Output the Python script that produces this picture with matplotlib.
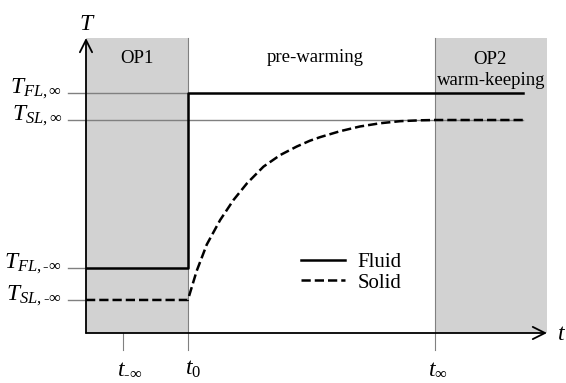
import numpy as np
import matplotlib.pyplot as plt
from matplotlib.lines import Line2D

plt.rcParams['font.family'] = ['Liberation Serif', 'DejaVu Serif']
plt.rcParams['mathtext.fontset'] = 'custom'
plt.rcParams['mathtext.rm'] = 'Liberation Serif'
plt.rcParams['mathtext.it'] = 'Liberation Serif:italic'

# schematic time points (arbitrary units)
t_minus_inf = 0.80
t_0 = 2.21
t_inf = 7.57
t_end = 9.48

# temperature levels (arbitrary units)
T_FL_inf = 8.14
T_SL_inf = 7.22
T_FL_minus = 2.20
T_SL_minus = 1.12

# solid temperature during pre-warming
solid_t = [2.21, 2.40, 2.62, 2.91, 3.20, 3.49, 3.85, 4.21, 4.57, 4.86,
           5.08, 5.51, 5.94, 6.38, 6.81, 7.25, 7.57, 9.48]
solid_T = [1.12, 2.10, 3.00, 3.83, 4.51, 5.07, 5.64, 6.03, 6.32, 6.52,
           6.64, 6.84, 7.00, 7.11, 7.18, 7.21, 7.22, 7.22]

level_values = [T_FL_inf, T_SL_inf, T_FL_minus, T_SL_minus]
level_labels = [r'$T_{FL,\infty}$', r'$T_{SL,\infty}$',
                r'$T_{FL,\text{-}\infty}$', r'$T_{SL,\text{-}\infty}$']
tick_values = [t_minus_inf, t_0, t_inf]
tick_labels = [r'$t_{\text{-}\infty}$', r'$t_{\mathit{0}}$', r'$t_{\infty}$']

fig = plt.figure(figsize=(5.66, 3.83), dpi=100)
ax = fig.add_axes([86/566, 50/383, 461/566, 295/383])
ax.set_xlim(0, 10)
ax.set_ylim(0, 10)
ax.axis('off')

shade = '#d2d2d2'
guide = '#808080'

# operating phases
ax.axvspan(0, t_0, color=shade, zorder=0, lw=0)
ax.axvspan(t_inf, 10, color=shade, zorder=0, lw=0)

# vertical markers
ax.plot([t_0, t_0], [-0.58, 10], color=guide, lw=0.8, zorder=1, clip_on=False)
ax.plot([t_inf, t_inf], [-0.58, 10], color=guide, lw=0.8, zorder=1, clip_on=False)
ax.plot([t_minus_inf, t_minus_inf], [-0.58, 0], color=guide, lw=0.8, zorder=1, clip_on=False)

# horizontal guide lines
ax.plot([-0.39, t_0], [T_FL_inf, T_FL_inf], color=guide, lw=1.0, zorder=1, clip_on=False)
ax.plot([-0.39, t_end], [T_SL_inf, T_SL_inf], color=guide, lw=1.0, zorder=1, clip_on=False)
ax.plot([-0.39, 0], [T_FL_minus, T_FL_minus], color=guide, lw=1.0, zorder=1, clip_on=False)
ax.plot([-0.39, 0], [T_SL_minus, T_SL_minus], color=guide, lw=1.0, zorder=1, clip_on=False)

# fluid and solid temperatures
ax.plot([0, t_0, t_0, t_end], [T_FL_minus, T_FL_minus, T_FL_inf, T_FL_inf],
        color='black', lw=1.8, zorder=3)
ax.plot([0] + solid_t, [T_SL_minus] + solid_T, color='black', lw=1.8, ls='--', zorder=3)

# axes arrows
ax.annotate('', xy=(0, 10), xytext=(0, 0),
            arrowprops=dict(arrowstyle='->', lw=1.3, mutation_scale=22, shrinkA=0, shrinkB=0))
ax.annotate('', xy=(10, 0), xytext=(0, 0),
            arrowprops=dict(arrowstyle='->', lw=1.3, mutation_scale=22, shrinkA=0, shrinkB=0))
ax.text(0.03, 10.27, r'$T$', fontsize=17, ha='center', va='baseline')
ax.text(10.22, -0.24, r'$t$', fontsize=17, ha='left', va='baseline')

for val, lab in zip(level_values, level_labels):
    ax.text(-0.52, val, lab, fontsize=17, ha='right', va='baseline')

for val, lab, x0 in zip(tick_values, tick_labels, [0.67, 2.15, 7.42]):
    ax.text(x0, -1.42, lab, fontsize=17, ha='left', va='baseline')

# phase labels
ax.text(1.11, 9.14, 'OP1', fontsize=13.5, ha='center', va='baseline')
ax.text(4.98, 9.19, 'pre-warming', fontsize=13.5, ha='center', va='baseline')
ax.text(8.77, 9.12, 'OP2', fontsize=13.5, ha='center', va='baseline')
ax.text(8.78, 8.41, 'warm-keeping', fontsize=13.5, ha='center', va='baseline')

handles = [Line2D([], [], color='black', lw=1.8),
           Line2D([], [], color='black', lw=1.8, ls='--')]
ax.legend(handles, ['Fluid', 'Solid'], loc='center left', bbox_to_anchor=(0.466, 0.205),
          frameon=False, fontsize=15, handlelength=2.1, handletextpad=0.63,
          labelspacing=0.05, borderpad=0, borderaxespad=0)

fig.savefig('out.png', dpi=100)
